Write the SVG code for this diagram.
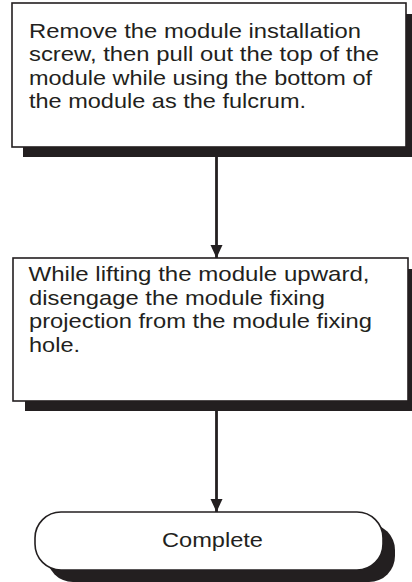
<svg xmlns="http://www.w3.org/2000/svg" width="412" height="582" viewBox="0 0 412 582">
<style>
.box{fill:#fff;stroke:#231f20;stroke-width:1.6}
.shadow{fill:#231f20}
.t{font-family:"Liberation Sans",Arial,sans-serif;font-size:21px;fill:#231f20}
.conn{stroke:#231f20;stroke-width:2.8;fill:none}
</style>
<defs>
<marker id="arr" markerUnits="userSpaceOnUse" markerWidth="14" markerHeight="14" refX="13" refY="6" orient="auto">
<path d="M0,0 L13,6 L0,12 Z" fill="#231f20"/>
</marker>
</defs>
<g id="connectors">
<line class="conn" x1="216.5" y1="150" x2="216.5" y2="258" marker-end="url(#arr)"/>
<line class="conn" x1="216.5" y1="405" x2="216.5" y2="512" marker-end="url(#arr)"/>
</g>
<g id="step1">
<rect class="shadow" x="23" y="14" width="394" height="143"/>
<rect class="box" x="12" y="3" width="394" height="144"/>
<text class="t" x="29" y="37.5" textLength="332" lengthAdjust="spacingAndGlyphs">Remove the module installation</text>
<text class="t" x="29" y="61" textLength="350" lengthAdjust="spacingAndGlyphs">screw, then pull out the top of the</text>
<text class="t" x="29" y="84.5" textLength="343" lengthAdjust="spacingAndGlyphs">module while using the bottom of</text>
<text class="t" x="29" y="108" textLength="277" lengthAdjust="spacingAndGlyphs">the module as the fulcrum.</text>
</g>
<g id="step2">
<rect class="shadow" x="25" y="269" width="396" height="142"/>
<rect class="box" x="13" y="258" width="395" height="143"/>
<text class="t" x="28.5" y="281" textLength="341" lengthAdjust="spacingAndGlyphs">While lifting the module upward,</text>
<text class="t" x="29" y="304.5" textLength="296" lengthAdjust="spacingAndGlyphs">disengage the module fixing</text>
<text class="t" x="29" y="328" textLength="343" lengthAdjust="spacingAndGlyphs">projection from the module fixing</text>
<text class="t" x="29" y="351.5" textLength="51" lengthAdjust="spacingAndGlyphs">hole.</text>
</g>
<g id="complete">
<rect class="shadow" x="47" y="524" width="348" height="58" rx="26" ry="26"/>
<rect class="box" x="35" y="512" width="348" height="58" rx="26" ry="26"/>
<text class="t" x="162" y="547" textLength="101" lengthAdjust="spacingAndGlyphs">Complete</text>
</g>
</svg>
